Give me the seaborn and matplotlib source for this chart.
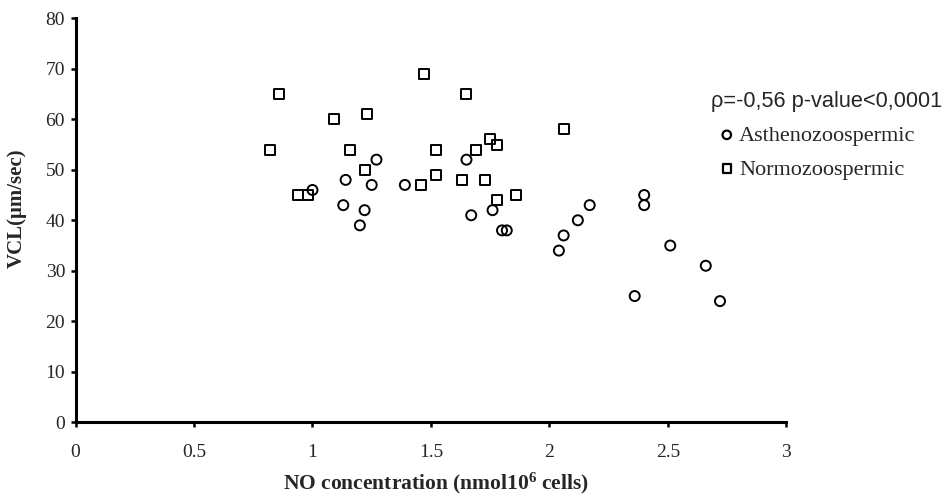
import pandas as pd
import matplotlib
matplotlib.use("Agg")
import matplotlib.pyplot as plt
import seaborn as sns

# Asthenozoospermic (circles)
astheno_no = [1.00, 1.14, 1.13, 1.22, 1.20, 1.25, 1.27, 1.39, 1.65, 1.67, 1.76, 1.80,
              1.82, 2.04, 2.06, 2.12, 2.17, 2.40, 2.40, 2.51, 2.36, 2.66, 2.72]
astheno_vcl = [46, 48, 43, 42, 39, 47, 52, 47, 52, 41, 42, 38,
               38, 34, 37, 40, 43, 45, 43, 35, 25, 31, 24]

# Normozoospermic (squares)
normo_no = [0.82, 0.86, 0.94, 0.98, 1.09, 1.16, 1.22, 1.23, 1.47, 1.46, 1.52,
            1.52, 1.65, 1.63, 1.69, 1.73, 1.75, 1.78, 1.78, 1.86, 2.06]
normo_vcl = [54, 65, 45, 45, 60, 54, 50, 61, 69, 47, 54,
             49, 65, 48, 54, 48, 56, 55, 44, 45, 58]

x_ticks = [0, 0.5, 1, 1.5, 2, 2.5, 3]
x_tick_labels = ["0", "0.5", "1", "1.5", "2", "2.5", "3"]
y_ticks = [0, 10, 20, 30, 40, 50, 60, 70, 80]

df = pd.DataFrame({
    "NO": astheno_no + normo_no,
    "VCL": astheno_vcl + normo_vcl,
    "Grupo": ["Asthenozoospermic"] * len(astheno_no) + ["Normozoospermic"] * len(normo_no),
})

sns.set_style("ticks")
plt.rcParams["font.family"] = ["Liberation Serif", "DejaVu Serif"]
plt.rcParams["mathtext.default"] = "regular"

fig = plt.figure(figsize=(9.49, 5.01), dpi=100)
ax = fig.add_axes([0.0796, 0.157, 0.749, 0.8066])

penanda = {"Asthenozoospermic": "o", "Normozoospermic": "s"}
for nama, data_grup in df.groupby("Grupo"):
    sns.scatterplot(data=data_grup, x="NO", y="VCL", marker=penanda[nama], s=52,
                    color="black", linewidth=1.4, label=nama, ax=ax, zorder=3)

# marker kosong (hanya tepi)
for koleksi in ax.collections:
    koleksi.set_facecolor("none")
    koleksi.set_edgecolor("black")

ax.set_xlim(0, 3)
ax.set_ylim(0, 80)
ax.set_xticks(x_ticks)
ax.set_xticklabels(x_tick_labels)
ax.set_yticks(y_ticks)
ax.tick_params(axis="both", labelsize=14, width=1.8, length=3.5, color="black")
ax.tick_params(axis="x", pad=12)
ax.tick_params(axis="y", pad=4)

sns.despine(ax=ax)
for sisi in ["left", "bottom"]:
    ax.spines[sisi].set_linewidth(2.2)
    ax.spines[sisi].set_color("black")

ax.set_xlabel(r"NO concentration (nmol10$^{6}$ cells)", fontsize=15.5, fontweight="bold")
ax.set_ylabel("VCL(μm/sec)", fontsize=15, fontweight="bold")
ax.xaxis.set_label_coords(0.507, -0.12)
ax.yaxis.set_label_coords(-0.068, 0.53)

# judul korelasi di atas legenda
fig.text(711 / 949, 1 - 101 / 501, "ρ=-0,56 p-value<0,0001", family="Liberation Sans",
         fontsize=15.7, ha="left", va="center")

leg = ax.legend(loc="upper left",
                bbox_to_anchor=(709 / 949, 1 - 114 / 501), bbox_transform=fig.transFigure,
                frameon=False, prop={"family": "Liberation Serif", "size": 16},
                handlelength=0.6, handletextpad=0.25, markerscale=0.85,
                labelspacing=0.6, borderpad=0)
for h in leg.legend_handles:
    h.set_facecolor("none")
    h.set_edgecolor("black")
    h.set_linewidth(1.6)

fig.savefig("out.png", dpi=100)
plt.close(fig)
